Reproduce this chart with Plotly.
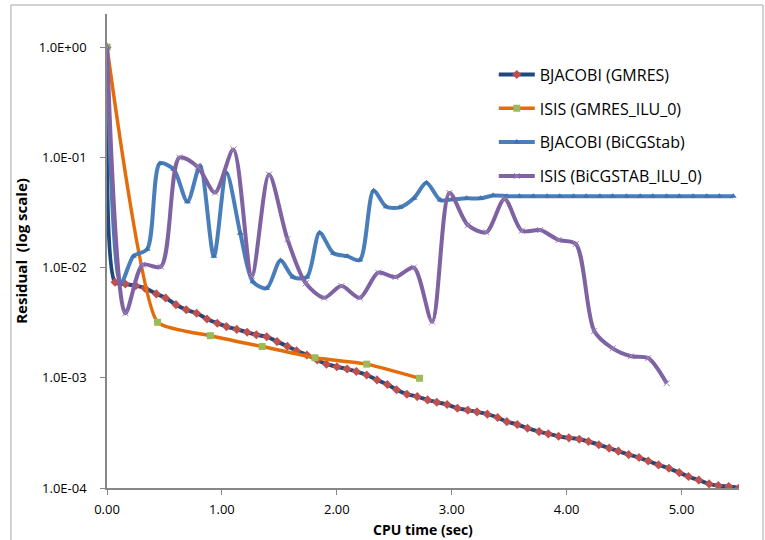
import numpy as np
import plotly.graph_objects as go

# Residual histories (CPU time in seconds, residual)
gmres_bj_t = [0.00, 0.07, 0.16, 0.25, 0.33, 0.43, 0.51, 0.60, 0.69, 0.78, 0.87, 0.96,
              1.04, 1.13, 1.22, 1.30, 1.39, 1.48, 1.57, 1.65, 1.74, 1.83, 1.91, 2.00,
              2.09, 2.17, 2.26, 2.35, 2.44, 2.52, 2.61, 2.70, 2.79, 2.87, 2.96, 3.05,
              3.14, 3.22, 3.31, 3.40, 3.48, 3.57, 3.66, 3.76, 3.84, 3.93, 4.02, 4.11,
              4.19, 4.28, 4.37, 4.45, 4.54, 4.63, 4.71, 4.80, 4.89, 4.98, 5.06, 5.15,
              5.24, 5.32, 5.41, 5.50]
gmres_bj_r = [1.0, 7.36e-3, 7.1e-3, 6.86e-3, 6.5e-3, 5.77e-3, 5.3e-3, 4.61e-3, 4.15e-3,
              3.85e-3, 3.42e-3, 3.13e-3, 2.91e-3, 2.75e-3, 2.59e-3, 2.46e-3, 2.36e-3,
              2.13e-3, 1.93e-3, 1.76e-3, 1.61e-3, 1.45e-3, 1.33e-3, 1.26e-3, 1.2e-3,
              1.14e-3, 1.06e-3, 9.57e-4, 8.68e-4, 7.8e-4, 7.1e-4, 6.75e-4, 6.3e-4,
              6.0e-4, 5.72e-4, 5.3e-4, 5.08e-4, 4.91e-4, 4.68e-4, 4.36e-4, 4.0e-4,
              3.77e-4, 3.49e-4, 3.25e-4, 3.1e-4, 2.95e-4, 2.85e-4, 2.77e-4, 2.64e-4,
              2.47e-4, 2.30e-4, 2.16e-4, 2.01e-4, 1.89e-4, 1.76e-4, 1.62e-4, 1.51e-4,
              1.38e-4, 1.27e-4, 1.18e-4, 1.09e-4, 1.05e-4, 1.03e-4, 1.0e-4]

gmres_isis_t = [0.00, 0.44, 0.90, 1.35, 1.81, 2.26, 2.72]
gmres_isis_r = [1.0, 3.19e-3, 2.41e-3, 1.92e-3, 1.52e-3, 1.33e-3, 9.9e-4]

bicg_bj_t = [0.00, 0.12, 0.23, 0.35, 0.46, 0.58, 0.70, 0.81, 0.93, 1.04, 1.16, 1.27,
             1.39, 1.51, 1.62, 1.74, 1.85, 1.97, 2.09, 2.20, 2.32, 2.43, 2.55, 2.67,
             2.78, 2.90, 3.01, 3.13, 3.25, 3.36, 3.48, 3.59, 3.71, 3.83, 3.94, 4.06,
             4.17, 4.29, 4.40, 4.52, 4.64, 4.75, 4.87, 4.98, 5.10, 5.22, 5.33, 5.45]
bicg_bj_r = [1.0, 7.2e-3, 1.27e-2, 1.47e-2, 8.8e-2, 7.8e-2, 3.96e-2, 8.4e-2, 1.27e-2,
             7.2e-2, 2.05e-2, 7.45e-3, 6.5e-3, 1.16e-2, 8.2e-3, 8.2e-3, 2.07e-2,
             1.35e-2, 1.27e-2, 1.17e-2, 4.98e-2, 3.56e-2, 3.52e-2, 4.25e-2, 5.88e-2,
             4.1e-2, 4.16e-2, 4.25e-2, 4.25e-2, 4.5e-2, 4.45e-2, 4.45e-2, 4.45e-2,
             4.45e-2, 4.45e-2, 4.45e-2, 4.45e-2, 4.45e-2, 4.45e-2, 4.45e-2, 4.45e-2,
             4.45e-2, 4.45e-2, 4.45e-2, 4.45e-2, 4.45e-2, 4.45e-2, 4.45e-2]

bicg_isis_t = [0.00, 0.16, 0.31, 0.47, 0.63, 0.79, 0.94, 1.10, 1.26, 1.41, 1.57, 1.73,
               1.89, 2.04, 2.20, 2.36, 2.51, 2.67, 2.83, 2.98, 3.14, 3.30, 3.46, 3.61,
               3.77, 3.93, 4.08, 4.24, 4.40, 4.56, 4.71, 4.87]
bicg_isis_r = [1.0, 3.85e-3, 1.06e-2, 1.02e-2, 9.96e-2, 8.2e-2, 4.8e-2, 1.18e-1, 8.4e-3,
               6.98e-2, 1.81e-2, 7.2e-3, 5.33e-3, 6.8e-3, 5.33e-3, 9.0e-3, 8.2e-3,
               1.0e-2, 3.23e-3, 4.75e-2, 2.43e-2, 2.09e-2, 4.2e-2, 2.16e-2, 2.19e-2,
               1.78e-2, 1.64e-2, 2.66e-3, 1.85e-3, 1.57e-3, 1.51e-3, 8.93e-4]

x_ticks = [0, 1, 2, 3, 4, 5]
x_tick_text = ["0.00", "1.00", "2.00", "3.00", "4.00", "5.00"]
y_ticks = [1e0, 1e-1, 1e-2, 1e-3, 1e-4]
y_tick_text = ["1.0E+00", "1.0E-01", "1.0E-02", "1.0E-03", "1.0E-04"]

FONT = "'Open Sans', sans-serif"
AXIS_GREY = "#878787"

fig = go.Figure()

fig.add_trace(go.Scatter(
    x=gmres_bj_t, y=gmres_bj_r, name="BJACOBI (GMRES)", legendgroup="a",
    mode="lines+markers", line=dict(color="#1F497D", width=4, shape="spline", smoothing=0.7),
    marker=dict(symbol="diamond", size=7, color="#C0504D", line=dict(width=0)),
))
fig.add_trace(go.Scatter(
    x=gmres_isis_t, y=gmres_isis_r, name="ISIS (GMRES_ILU_0)", legendgroup="b",
    mode="lines+markers", line=dict(color="#E46C0A", width=3.5, shape="spline", smoothing=0.45),
    marker=dict(symbol="square", size=7, color="#9BBB59", line=dict(width=0)),
))
fig.add_trace(go.Scatter(
    x=bicg_bj_t, y=bicg_bj_r, name="BJACOBI (BiCGStab)", legendgroup="c",
    mode="lines+markers", line=dict(color="#4A7EBB", width=4, shape="spline", smoothing=0.8),
    marker=dict(symbol="triangle-up", size=6, color="#3F72AF", line=dict(width=0)),
))
fig.add_trace(go.Scatter(
    x=bicg_isis_t, y=bicg_isis_r, name="ISIS (BiCGSTAB_ILU_0)", legendgroup="d",
    mode="lines+markers", line=dict(color="#7F62A1", width=4, shape="spline", smoothing=0.8),
    marker=dict(symbol="x-thin-open", size=6, color="#9A86BC", line=dict(width=1, color="#9A86BC")),
))

# chart frame
fig.add_shape(type="rect", xref="paper", yref="paper",
              x0=-0.152, x1=1.038, y0=-0.13, y1=1.019,
              line=dict(color="#A6A6A6", width=1), fillcolor="rgba(0,0,0,0)", layer="below")

# x-axis title
fig.add_annotation(text="<b>CPU time (sec)</b>", xref="paper", yref="paper",
                   x=0.5, y=-0.0875, xanchor="center", yanchor="middle", showarrow=False,
                   font=dict(family=FONT, size=14, color="black"))

fig.update_layout(
    width=765, height=540,
    margin=dict(l=107, r=26, t=14, b=52),
    paper_bgcolor="white", plot_bgcolor="white",
    font=dict(family=FONT, size=13, color="black"),
    showlegend=True,
    legend=dict(x=0.612, y=0.908, xanchor="left", yanchor="top",
                font=dict(family=FONT, size=16, color="black"),
                tracegroupgap=10, bgcolor="rgba(0,0,0,0)", itemwidth=36),
    xaxis=dict(range=[0, 5.5], tickvals=x_ticks, ticktext=x_tick_text, automargin=False,
               showgrid=False, zeroline=False, showline=True, linecolor=AXIS_GREY,
               linewidth=1.5, ticks="outside", ticklen=5, tickcolor=AXIS_GREY,
               tickfont=dict(family=FONT, size=13), ticklabelstandoff=4),
    yaxis=dict(type="log", range=[-4, np.log10(2)], tickvals=y_ticks, ticktext=y_tick_text,
               automargin=False,
               showgrid=False, zeroline=False, showline=True, linecolor=AXIS_GREY,
               linewidth=1.5, ticks="outside", ticklen=5, tickcolor=AXIS_GREY,
               tickfont=dict(family=FONT, size=13), ticklabelstandoff=11,
               title=dict(text="<b>Residual\u00a0 (log scale)</b>", font=dict(family=FONT, size=15), standoff=8)),
)

fig.write_html("out.html")
